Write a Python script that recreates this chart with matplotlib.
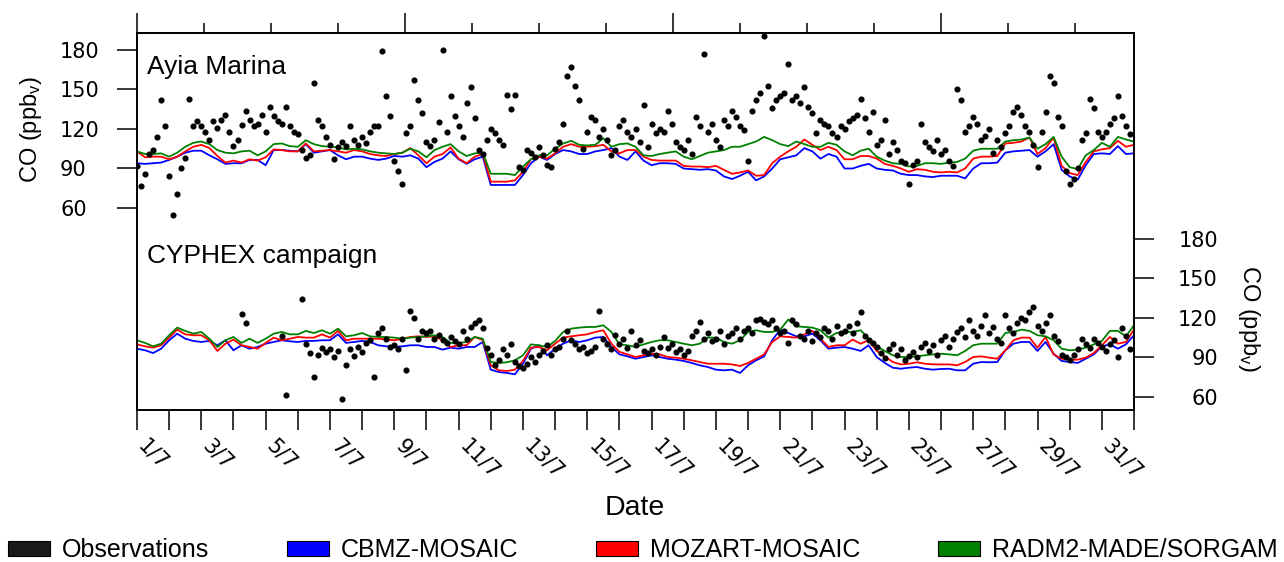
import numpy as np
import matplotlib.pyplot as plt
from matplotlib.patches import Patch

plt.rcParams['font.family'] = ['Liberation Sans', 'DejaVu Sans']
plt.rcParams['mathtext.default'] = 'regular'

# time in days since 1 July 00:00 (models every 6 h, observations every 3 h)
t_model = np.arange(125) * 0.25
t_obs = np.arange(248) / 8.0

# ---- Ayia Marina (upper panel, left axis) ----
am_cbmz = [94, 93.5, 94, 94.5, 96.5, 99, 102, 103.5, 103.5, 100, 97, 93.5,
           94, 94, 96.5, 96.5, 92.5, 104, 104, 103.5, 103, 108.5, 102, 103,
           104, 100, 97, 99, 99, 97.5, 96.5, 97.5, 99.5, 99, 100, 97.5,
           91, 95, 97.5, 103, 97, 93.5, 97, 99, 77.5, 77.5, 77.5, 77.5,
           85, 94, 99, 96.5, 101, 104, 103, 101, 101, 103, 104, 105.5,
           99, 96.5, 103, 96, 92.5, 94, 94, 93.5, 90, 89.5, 89, 89.5,
           88.5, 84, 82, 84.5, 87.5, 81, 84, 90, 97, 98.5, 100, 105.5,
           103, 97.5, 101, 99, 90, 90, 92, 93.5, 90, 89, 88.5, 86,
           85, 85, 84, 83.5, 84.5, 84.5, 84.5, 82.5, 90, 94, 94, 94.5,
           102, 103, 103.5, 104, 99, 103, 108.5, 89, 84, 81.5, 92.5, 101,
           101.5, 101, 107, 101, 101.5]
am_mozart = [103, 98.5, 99, 99, 97, 99, 103, 106.5, 108, 105.5, 99.5, 94.5,
             96, 94.5, 97, 96, 98.5, 104.5, 104, 103, 103, 109, 103, 103.5,
             104, 103, 102, 104, 103, 101, 100, 99.5, 101, 102, 105.5, 100,
             94, 99, 101, 106, 97.5, 94, 99, 101, 80, 80, 80, 81,
             87.5, 97, 99, 97.5, 101.5, 106.5, 108.5, 106.5, 106.5, 107, 108, 103,
             101.5, 104, 104, 99, 96.5, 96, 96, 96, 92, 91.5, 91.5, 91,
             92, 89, 86, 87, 88.5, 84.5, 85, 94, 99, 103, 106.5, 112,
             108, 104, 106.5, 104, 97, 97, 99.5, 99.5, 97.5, 93.5, 92, 90,
             87.5, 89.5, 89, 87.5, 87, 87.5, 87, 90, 97.5, 99, 99, 99.5,
             109, 109.5, 110.5, 113.5, 101, 105.5, 113.5, 92, 86.5, 85, 95, 103,
             104.5, 105.5, 111, 106.5, 108]
am_radm2 = [103, 101, 101, 101.5, 99, 102, 106.5, 109.5, 110.5, 108.5, 104, 102,
            101.5, 103, 103.5, 100, 103, 108.5, 109, 107, 106.5, 111.5, 108.5, 107,
            106.5, 106, 104.5, 105, 104.5, 103, 102, 101.5, 101, 102, 105, 103,
            98.5, 104, 106.5, 108.5, 103, 99.5, 101.5, 102, 86, 86, 86, 85,
            91.5, 97, 100, 100, 105, 109, 111, 108, 107.5, 108, 113, 106.5,
            108.5, 109, 106.5, 100, 99.5, 101, 102, 103, 99, 97, 99.5, 102,
            103, 104, 106.5, 106.5, 108.5, 110.5, 114, 111.5, 108.5, 107, 110.5, 108.5,
            106.5, 106.5, 109.5, 108, 103, 100, 103.5, 105, 99, 96, 94, 93.5,
            91.5, 92, 94, 94, 93.5, 94.5, 95, 97.5, 103.5, 105, 105, 105,
            110.5, 111.5, 112, 113.5, 105, 108.5, 114, 99, 91, 89.5, 100, 104,
            109.5, 106.5, 114, 112, 110.5]
am_obs = [92, 77, 86, 101, 104, 114, 142, 122,
          84, 55, 71, 90, 98, 143, 122, 126,
          122, 118, 112, 126, 121, 127, 131, 118,
          107, 112, 123, 134, 127, 122, 124, 131,
          118, 137, 130, 126, 124, 137, 122, 118,
          116, 104, 98, 100, 155, 127, 122, 114,
          108, 97, 106, 110, 107, 122, 112, 108,
          114, 109, 118, 122, 122, 179, 145, 130,
          96, 88, 78, 117, 122, 157, 142, 132,
          110, 107, 112, 125, 180, 118, 145, 130,
          122, 114, 140, 152, 128, 104, 101, 112,
          120, 117, 112, 108, 146, 135, 146, 91,
          89, 104, 102, 99, 106, 100, 93, 91,
          105, 110, 124, 160, 167, 153, 142, 105,
          118, 129, 127, 114, 120, 112, 100, 104,
          122, 127, 118, 114, 120, 110, 138, 106,
          124, 117, 120, 118, 134, 124, 110, 106,
          104, 112, 101, 129, 122, 177, 118, 124,
          112, 106, 127, 122, 134, 129, 122, 119,
          96, 134, 142, 147, 191, 153, 136, 142,
          145, 147, 169, 142, 145, 140, 152, 137,
          132, 117, 127, 124, 122, 117, 114, 122,
          120, 126, 128, 131, 143, 128, 118, 133,
          108, 112, 127, 101, 110, 104, 96, 94,
          78, 93, 96, 124, 110, 106, 103, 112,
          101, 104, 96, 92, 150, 142, 118, 122,
          129, 124, 112, 115, 120, 102, 112, 106,
          117, 122, 133, 137, 131, 122, 118, 108,
          91, 118, 133, 160, 155, 129, 122, 88,
          78, 82, 90, 112, 117, 143, 136, 118,
          114, 118, 124, 128, 145, 130, 122, 116]

# ---- CYPHEX campaign (lower panel, right axis) ----
cy_cbmz = [96.4, 95.2, 93.1, 96.4, 102.8, 107.8, 104, 102.3, 101.5, 102.3, 99, 102.8,
           95.2, 99, 96.4, 97.7, 100.2, 101.5, 102.8, 102, 101.5, 102.3, 102.3, 102.8,
           102.8, 107.3, 100.8, 101.5, 102.3, 101.5, 99, 98.2, 97.7, 98.2, 99, 99,
           97.7, 97.7, 95.7, 97.2, 96.4, 97.7, 97.7, 101.5, 80.5, 78.7, 78, 77,
           85, 96.4, 99, 91.4, 96.4, 100.2, 102.8, 101.5, 102.8, 104.8, 105.3, 97.7,
           92.1, 90.6, 88.8, 90.1, 91.4, 90.1, 88.8, 88.1, 87.1, 85.6, 83.8, 82.5,
           80.5, 80, 80.5, 78, 83.8, 87.6, 90.6, 102.8, 110.9, 108.3, 105.8, 105.8,
           107.8, 102.8, 96.4, 97.2, 97.7, 96.4, 94.7, 99, 90.1, 85.6, 82, 81.2,
           82, 82.5, 81.2, 80.5, 81, 81.2, 80, 80, 85, 86.3, 86.1, 86.3,
           95.2, 100.2, 101.5, 101.5, 94.7, 101.5, 92.6, 87.1, 86.3, 85.6, 88.8, 92.1,
           98.2, 99.7, 96.4, 99.7, 106.6]
cy_mozart = [99.7, 98.2, 97.2, 99, 104.8, 110.9, 107.3, 106.6, 106.6, 102.8, 94.7, 100.2,
             103.3, 99, 97.7, 96.4, 100.8, 104.8, 102.8, 104, 105.3, 104.8, 104.8, 107.3,
             104.8, 109.9, 102.8, 104, 104, 104, 104, 103.3, 102.8, 104, 105.3, 105.8,
             105.3, 105.8, 102.8, 97.7, 99, 99, 105.3, 103, 83.8, 80, 79.5, 80.5,
             87.1, 97.2, 97.7, 95.2, 100.2, 104.8, 105.8, 106.6, 107.3, 109.1, 110.4, 100.2,
             94, 92.1, 90.1, 91.4, 92.6, 92.1, 90.1, 89.6, 88.8, 87.6, 86.3, 85,
             85, 85, 84.5, 83.3, 85.6, 88.8, 92.1, 101.5, 105.8, 105.3, 104.8, 107.3,
             109.9, 104, 97.7, 99, 99, 103.3, 100.2, 102.8, 94.7, 90.6, 86.3, 84.5,
             85, 86.1, 85, 84.5, 84.5, 84.5, 83.8, 86.3, 90.1, 90.6, 89.6, 88.8,
             95.2, 102.8, 104.8, 104.8, 97.2, 105.3, 92.1, 88.8, 88.1, 88.1, 89.6, 93.1,
             99, 105.3, 100.2, 101.5, 110.9]
cy_radm2 = [102.8, 100.8, 98.2, 100.2, 106.6, 112.4, 109.9, 107.8, 109.1, 104, 97.7, 102.8,
            105.3, 100.8, 104, 100.8, 104, 107.8, 109.1, 107.3, 107.3, 109.9, 108.3, 110.4,
            107.8, 111.6, 105.8, 106.6, 108.3, 105.8, 105.3, 105.3, 104.8, 104, 104.8, 105.3,
            105.8, 106.6, 105.3, 100.8, 100.8, 101.5, 105.3, 104, 86.3, 85.6, 86.1, 87.6,
            91.4, 99.7, 99, 97.7, 102.3, 109.1, 111.6, 112.4, 112.9, 112.9, 114.2, 109.1,
            99.7, 99, 97.7, 99.7, 101.5, 102.8, 102.8, 101.5, 100.2, 99, 100.2, 104.8,
            104.8, 101.5, 100.2, 102.8, 109.1, 110.4, 109.1, 109.1, 110.9, 118.5, 113.4, 112.9,
            112.4, 110.4, 104.8, 108.3, 109.1, 109.1, 110.4, 104, 98.2, 94.7, 91.4, 90.1,
            90.1, 90.6, 91.4, 92.1, 92.6, 92.1, 91.4, 94.7, 99, 100.2, 100.2, 100.2,
            108.3, 109.1, 110.9, 109.9, 106.6, 105.8, 102.8, 96.4, 95.2, 95.7, 97.2, 99.7,
            102.3, 109.9, 109.9, 105.8, 114.2]
nan = np.nan
cy_obs = [nan, nan, nan, nan, nan, nan, nan, nan,
          nan, nan, nan, nan, nan, nan, nan, nan,
          nan, nan, nan, nan, nan, nan, nan, nan,
          nan, nan, 123, 116, nan, nan, nan, nan,
          nan, nan, nan, nan, 106, 61, nan, nan,
          nan, 134, 100, 93, 75, 92, 97, 94,
          96, 90, 95, 58, 84, 96, 91, 98,
          94, 101, 103, 75, 108, 112, 104, 98,
          99, 96, 104, 80, 125, 120, 104, 110,
          108, 110, 104, 107, 103, 101, 105, 102,
          100, 110, 104, 113, 116, 118, 112, 97,
          92, 84, 88, 96, 92, 100, 86, 83,
          82, 85, 90, 86, 92, 95, 99, 92,
          96, 98, 104, 110, 103, 100, 96, 98,
          93, 95, 98, 125, 104, 100, 96, 107,
          100, 104, 97, 110, 99, 103, 95, 93,
          96, 92, 98, 105, 97, 100, 94, 96,
          92, 95, 106, 110, 117, 104, 108, 102,
          104, 110, 100, 106, 108, 112, 104, 110,
          112, 108, 118, 119, 117, 115, 118, 112,
          108, 110, 101, 118, 115, 106, 104, 110,
          102, 108, 105, 112, 110, 104, 114, 108,
          110, 114, 108, 116, 124, 106, 103, 101,
          98, 93, 89, 96, 100, 92, 96, 88,
          91, 94, 90, 98, 101, 95, 99, 92,
          103, 106, 98, 104, 109, 112, 105, 118,
          110, 106, 114, 122, 108, 113, 104, 101,
          122, 112, 108, 116, 120, 118, 124, 128,
          114, 110, 116, 122, 106, 102, 92, 90,
          88, 92, 96, 104, 100, 97, 104, 101,
          98, 95, 100, 103, 90, 112, 106, 96]

model_names = ['CBMZ-MOSAIC', 'MOZART-MOSAIC', 'RADM2-MADE/SORGAM']
model_colors = ['blue', 'red', 'green']
yticks = [60, 90, 120, 150, 180]
days = np.arange(32)
day_labels = [f'{d + 1}/7' if d % 2 == 0 and d < 31 else '' for d in days]

fig = plt.figure(figsize=(12.84, 5.62), dpi=100)
ax = fig.add_axes([137 / 1284, 152 / 562, 997 / 1284, 377 / 562])
ax2 = ax.twinx()

for vals, c in zip([am_cbmz, am_mozart, am_radm2], model_colors):
    ax.plot(t_model, vals, color=c, lw=1.3, zorder=2)
ax.plot(t_obs, am_obs, 'o', color='black', ms=3.4, zorder=3)

for vals, c in zip([cy_cbmz, cy_mozart, cy_radm2], model_colors):
    ax2.plot(t_model, vals, color=c, lw=1.3, zorder=2)
ax2.plot(t_obs, cy_obs, 'o', color='black', ms=3.4, zorder=3)

ax.set_xlim(0, 31)
ax.set_ylim(-93.4, 192.9)
ax2.set_ylim(49.9, 335.9)

ax.set_yticks(yticks, [str(v) for v in yticks], ha='left',
              fontfamily='DejaVu Sans', fontsize=15)
ax.tick_params(axis='y', direction='out', length=14.4, width=1.1, pad=41)
ax2.set_yticks(yticks, [str(v) for v in yticks], ha='right',
               fontfamily='DejaVu Sans', fontsize=15)
ax2.tick_params(axis='y', direction='out', length=14.4, width=1.1, pad=46)

ax.set_xticks(days, day_labels, rotation=-45, rotation_mode='anchor',
              ha='left', va='baseline', fontfamily='DejaVu Sans', fontsize=15)
ax.tick_params(axis='x', direction='out', length=14.4, width=1.1, pad=12)

# extra time axis on top
sec = ax.secondary_xaxis('top')
sec.set_xticks(np.arange(0, 31, 200 / 24))
sec.set_xticks(np.arange(0, 31, 50 / 24), minor=True)
sec.tick_params(which='major', direction='out', length=14.4, width=1.1, labeltop=False)
sec.tick_params(which='minor', direction='out', length=7.2, width=1.1, labeltop=False)

for a in (ax, ax2, sec):
    for sp in a.spines.values():
        sp.set_linewidth(1.2)

ax.text(0.01, 0.891, 'Ayia Marina', transform=ax.transAxes, fontsize=19, va='baseline')
ax.text(0.01, 0.39, 'CYPHEX campaign', transform=ax.transAxes, fontsize=19, va='baseline')

fig.text(31 / 1284, 1 - 130 / 562, 'CO (ppb$_v$)', rotation=90,
         ha='center', va='center', fontsize=17)
fig.text(1249 / 1284, 1 - 318 / 562, 'CO (ppb$_v$)', rotation=270,
         ha='center', va='center', fontsize=17)
fig.text(635 / 1284, 1 - 508 / 562, 'Date', ha='center', va='center', fontsize=20.5)

handles = [Patch(facecolor='#1a1a1a', edgecolor='black', lw=0.8)]
handles += [Patch(facecolor=c, edgecolor='black', lw=0.8) for c in model_colors]
fig.legend(handles, ['Observations'] + model_names, loc='center left',
           bbox_to_anchor=(8 / 1284, 1 - 550 / 562), ncol=4, frameon=False,
           fontsize=18, handlelength=1.68, handleheight=0.56, handletextpad=0.48,
           columnspacing=3.1, borderpad=0, borderaxespad=0)

fig.savefig('out.png', dpi=100)
